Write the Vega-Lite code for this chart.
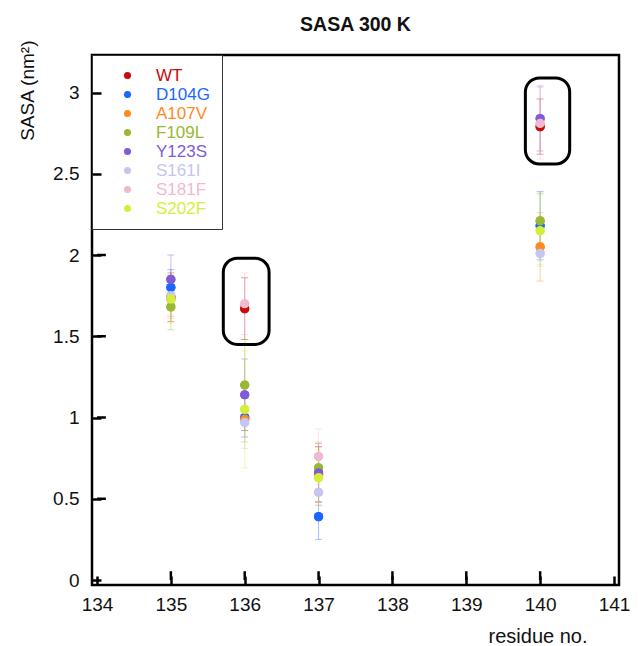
{
  "$schema": "https://vega.github.io/schema/vega-lite/v6.json",
  "autosize": "none",
  "width": 527,
  "height": 530,
  "padding": {"left": 92, "top": 55, "right": 19, "bottom": 61},
  "background": "white",
  "config": {
    "font": "Liberation Sans",
    "view": {"stroke": "black", "strokeWidth": 2.5},
    "axis": {"grid": false, "domain": false, "labelFont": "Liberation Sans", "titleFont": "Liberation Sans", "labelColor": "#111", "titleColor": "#111", "titleFontWeight": "normal", "labelFontSize": 19, "titleFontSize": 19, "ticks": true, "tickOpacity": 1, "tickColor": "black", "tickWidth": 2.5, "tickSize": 9}
  },
  "title": {"text": "SASA 300 K", "fontSize": 19.5, "fontWeight": "bold", "font": "Liberation Sans", "anchor": "middle", "frame": "group", "offset": 5, "color": "#111"},
  "resolve": {"legend": {"color": "independent"}},
  "datasets": {
    "pts": [
      {"residue": 135, "mutant": "WT", "sasa": 1.74, "err": 0.15},
      {"residue": 135, "mutant": "D104G", "sasa": 1.80, "err": 0.11},
      {"residue": 135, "mutant": "A107V", "sasa": 1.73, "err": 0.11},
      {"residue": 135, "mutant": "F109L", "sasa": 1.68, "err": 0.14},
      {"residue": 135, "mutant": "Y123S", "sasa": 1.85, "err": 0.15},
      {"residue": 135, "mutant": "S161I", "sasa": 1.75, "err": 0.12},
      {"residue": 135, "mutant": "S181F", "sasa": 1.73, "err": 0.12},
      {"residue": 135, "mutant": "S202F", "sasa": 1.73, "err": 0.15},
      {"residue": 136, "mutant": "WT", "sasa": 1.67, "err": 0.19},
      {"residue": 136, "mutant": "D104G", "sasa": 1.00, "err": 0.12},
      {"residue": 136, "mutant": "A107V", "sasa": 0.99, "err": 0.14},
      {"residue": 136, "mutant": "F109L", "sasa": 1.20, "err": 0.28},
      {"residue": 136, "mutant": "Y123S", "sasa": 1.14, "err": 0.22},
      {"residue": 136, "mutant": "S161I", "sasa": 0.97, "err": 0.16},
      {"residue": 136, "mutant": "S181F", "sasa": 1.70, "err": 0.19},
      {"residue": 136, "mutant": "S202F", "sasa": 1.05, "err": 0.36},
      {"residue": 137, "mutant": "WT", "sasa": 0.65, "err": 0.17},
      {"residue": 137, "mutant": "D104G", "sasa": 0.39, "err": 0.14},
      {"residue": 137, "mutant": "A107V", "sasa": 0.64, "err": 0.18},
      {"residue": 137, "mutant": "F109L", "sasa": 0.69, "err": 0.16},
      {"residue": 137, "mutant": "Y123S", "sasa": 0.66, "err": 0.18},
      {"residue": 137, "mutant": "S161I", "sasa": 0.54, "err": 0.08},
      {"residue": 137, "mutant": "S181F", "sasa": 0.76, "err": 0.17},
      {"residue": 137, "mutant": "S202F", "sasa": 0.63, "err": 0.17},
      {"residue": 140, "mutant": "WT", "sasa": 2.79, "err": 0.17},
      {"residue": 140, "mutant": "D104G", "sasa": 2.18, "err": 0.21},
      {"residue": 140, "mutant": "A107V", "sasa": 2.05, "err": 0.21},
      {"residue": 140, "mutant": "F109L", "sasa": 2.21, "err": 0.17},
      {"residue": 140, "mutant": "Y123S", "sasa": 2.84, "err": 0.20},
      {"residue": 140, "mutant": "S161I", "sasa": 2.01, "err": 0.07},
      {"residue": 140, "mutant": "S181F", "sasa": 2.81, "err": 0.22},
      {"residue": 140, "mutant": "S202F", "sasa": 2.15, "err": 0.22}
    ],
    "boxes": [
      {"x1": 135.71, "x2": 136.33, "y1": 1.45, "y2": 1.98},
      {"x1": 139.8, "x2": 140.4, "y1": 2.56, "y2": 3.09}
    ],
    "xticks": [{"at": 135}, {"at": 136}, {"at": 137}, {"at": 138}, {"at": 139}, {"at": 140}],
    "yticks": [{"at": 0.5}, {"at": 1}, {"at": 1.5}, {"at": 2}, {"at": 2.5}, {"at": 3}]
  },
  "layer": [
    {
      "data": {"name": "pts"},
      "mark": {"type": "circle", "size": 85, "opacity": 1},
      "encoding": {
        "x": {"field": "residue", "type": "quantitative", "title": "residue no.", "scale": {"domain": [134, 141], "nice": false},
          "axis": {"values": [134, 135, 136, 137, 138, 139, 140, 141], "format": "d", "zindex": 2, "offset": -9, "labelPadding": 10, "titleFontSize": 20, "titleAnchor": "end", "titleAlign": "right", "titleX": 495, "titleY": 66, "titleBaseline": "alphabetic"}},
        "y": {"field": "sasa", "type": "quantitative", "title": "SASA (nm²)", "scale": {"domain": [0, 3.2], "nice": false},
          "axis": {"values": [0, 0.5, 1, 1.5, 2, 2.5, 3], "format": "~g", "zindex": 2, "offset": -9, "labelPadding": 13, "titleAlign": "right", "titleX": -64, "titleY": -15}},
        "color": {"field": "mutant", "type": "nominal",
          "scale": {"domain": ["WT", "D104G", "A107V", "F109L", "Y123S", "S161I", "S181F", "S202F"],
            "range": ["#c80a0a", "#1a66ff", "#ff8a1f", "#99b833", "#7f5bd8", "#c4c6f2", "#f0b9d2", "#d4ef3a"]},
          "legend": {"title": null, "orient": "top-left", "offset": 0, "padding": 12, "symbolOffset": 15, "labelOffset": 20, "rowPadding": 1, "symbolSize": 50, "symbolType": "circle", "labelFontSize": 17, "labelFont": "Liberation Sans", "strokeColor": "#333", "fillColor": "white",
            "labelColor": {"expr": "scale('color', datum.value)"},
            "encode": {"legend": {"update": {"strokeWidth": {"value": 1}}}}}}
      }
    },
    {
      "data": {"name": "xticks"},
      "mark": {"type": "bar", "color": "#000000", "opacity": 1, "size": 2.5, "orient": "vertical"},
      "encoding": {
        "x": {"field": "at", "type": "quantitative", "title": "residue no."},
        "y": {"datum": 0.054, "type": "quantitative"},
        "y2": {"datum": 0}
      }
    },
    {
      "data": {"name": "yticks"},
      "mark": {"type": "bar", "color": "#000000", "opacity": 1, "size": 2.5, "orient": "horizontal"},
      "encoding": {
        "y": {"field": "at", "type": "quantitative", "title": "SASA (nm²)"},
        "x": {"datum": 134.12, "type": "quantitative"},
        "x2": {"datum": 134}
      }
    },
    {
      "data": {"name": "pts"},
      "mark": {"type": "errorbar", "ticks": {"size": 7}, "opacity": 0.4, "thickness": 1},
      "encoding": {
        "x": {"field": "residue", "type": "quantitative", "title": "residue no."},
        "y": {"field": "sasa", "type": "quantitative", "title": "SASA (nm²)"},
        "yError": {"field": "err"},
        "color": {"field": "mutant", "type": "nominal", "legend": null}
      }
    },
    {
      "data": {"name": "pts"},
      "mark": {"type": "circle", "size": 85, "opacity": 1},
      "encoding": {
        "x": {"field": "residue", "type": "quantitative", "title": "residue no."},
        "y": {"field": "sasa", "type": "quantitative", "title": "SASA (nm²)"},
        "color": {"field": "mutant", "type": "nominal", "legend": null}
      }
    },
    {
      "data": {"name": "boxes"},
      "mark": {"type": "rect", "fill": null, "filled": false, "stroke": "black", "strokeWidth": 3, "cornerRadius": 14},
      "encoding": {
        "x": {"field": "x1", "type": "quantitative", "title": "residue no."},
        "x2": {"field": "x2"},
        "y": {"field": "y1", "type": "quantitative", "title": "SASA (nm²)"},
        "y2": {"field": "y2"}
      }
    }
  ]
}
